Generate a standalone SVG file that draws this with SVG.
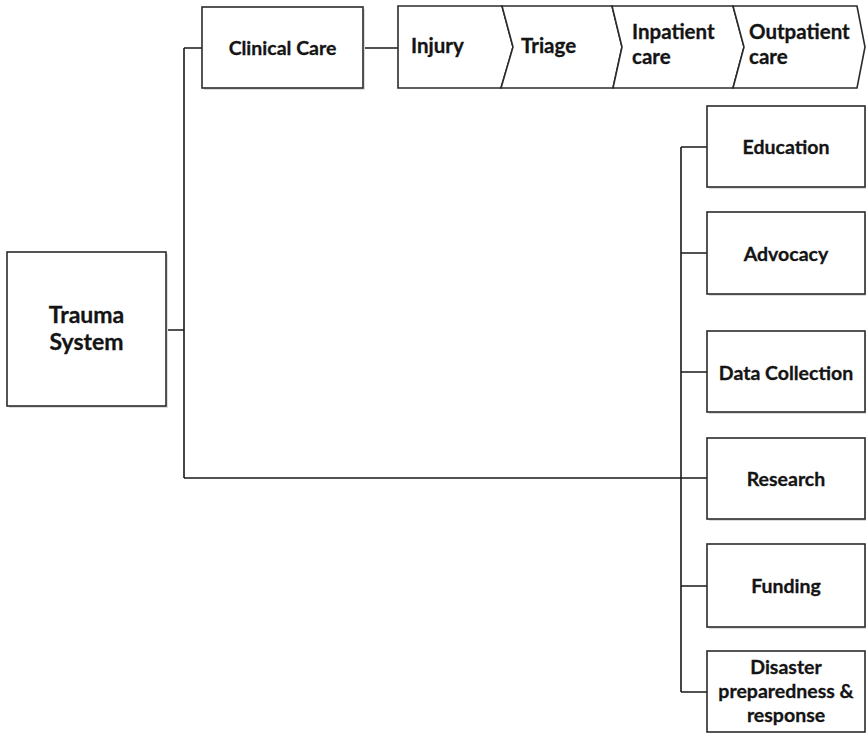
<svg xmlns="http://www.w3.org/2000/svg" width="866" height="733" viewBox="0 0 866 733">
<style>
.box{fill:#fff;stroke:#2b2b2b;stroke-width:1.6}
.sh{fill:#dcdcdc}
.t{font-family:Lato,"Open Sans","Liberation Sans",sans-serif;font-weight:bold;font-size:19.5px;fill:#141414;stroke:#141414;stroke-width:0.3}
.k{font-size:20.5px}
.c{text-anchor:middle}
.ln{fill:none;stroke:#1a1a1a;stroke-width:1.6}
</style>
<rect width="866" height="733" fill="#fff"/>
<g id="connectors">
<path class="ln" d="M166,330 H184 M184,48 V478 M184,48 H202 M184,478 H707 M363,48 H398 M681,147 V692 M681,147 H707 M681,253 H707 M681,372 H707 M681,586 H707 M681,692 H707"/>
</g>
<g id="trauma-system">
<rect class="sh" x="9" y="254" width="159" height="154"/>
<rect class="box" x="7" y="252" width="159" height="154"/>
<text class="t c" x="86.5" y="323" style="font-size:23px">Trauma</text>
<text class="t c" x="86.5" y="350" style="font-size:23px">System</text>
</g>
<g id="clinical-care">
<rect class="sh" x="204" y="9" width="161" height="81"/>
<rect class="box" x="202" y="7" width="161" height="81"/>
<text class="t c" x="282.5" y="55">Clinical Care</text>
</g>
<g id="injury">
<path class="box" d="M398,6 L502,6 L513,47 L501,88 L398,88 Z"/>
<text class="t k" x="411" y="53">Injury</text>
</g>
<g id="triage">
<path class="box" d="M502,6 L612,6 L622,47 L613,88 L501,88 L513,47 Z"/>
<text class="t k" x="521" y="53">Triage</text>
</g>
<g id="inpatient-care">
<path class="box" d="M612,6 L733,6 L744,47 L733,88 L613,88 L622,47 Z"/>
<text class="t k" x="632" y="39">Inpatient</text>
<text class="t k" x="632" y="64">care</text>
</g>
<g id="outpatient-care">
<path class="box" d="M733,6 L857,6 L865,47 L857,88 L733,88 L744,47 Z"/>
<text class="t k" x="749" y="39">Outpatient</text>
<text class="t k" x="749" y="64">care</text>
</g>
<g id="education">
<rect class="sh" x="709" y="108" width="158" height="81"/>
<rect class="box" x="707" y="106" width="158" height="81"/>
<text class="t c" x="786" y="154">Education</text>
</g>
<g id="advocacy">
<rect class="sh" x="709" y="214" width="158" height="82"/>
<rect class="box" x="707" y="212" width="158" height="82"/>
<text class="t c" x="786" y="261">Advocacy</text>
</g>
<g id="data-collection">
<rect class="sh" x="709" y="333" width="158" height="81"/>
<rect class="box" x="707" y="331" width="158" height="81"/>
<text class="t c" x="786" y="380">Data Collection</text>
</g>
<g id="research">
<rect class="sh" x="709" y="440" width="158" height="81"/>
<rect class="box" x="707" y="438" width="158" height="81"/>
<text class="t c" x="786" y="486">Research</text>
</g>
<g id="funding">
<rect class="sh" x="709" y="546" width="158" height="83"/>
<rect class="box" x="707" y="544" width="158" height="83"/>
<text class="t c" x="786" y="593">Funding</text>
</g>
<g id="disaster-preparedness">
<rect class="box" x="707" y="651" width="158" height="81"/>
<text class="t c" x="786" y="674">Disaster</text>
<text class="t c" x="786" y="698">preparedness &amp;</text>
<text class="t c" x="786" y="722">response</text>
</g>
</svg>
